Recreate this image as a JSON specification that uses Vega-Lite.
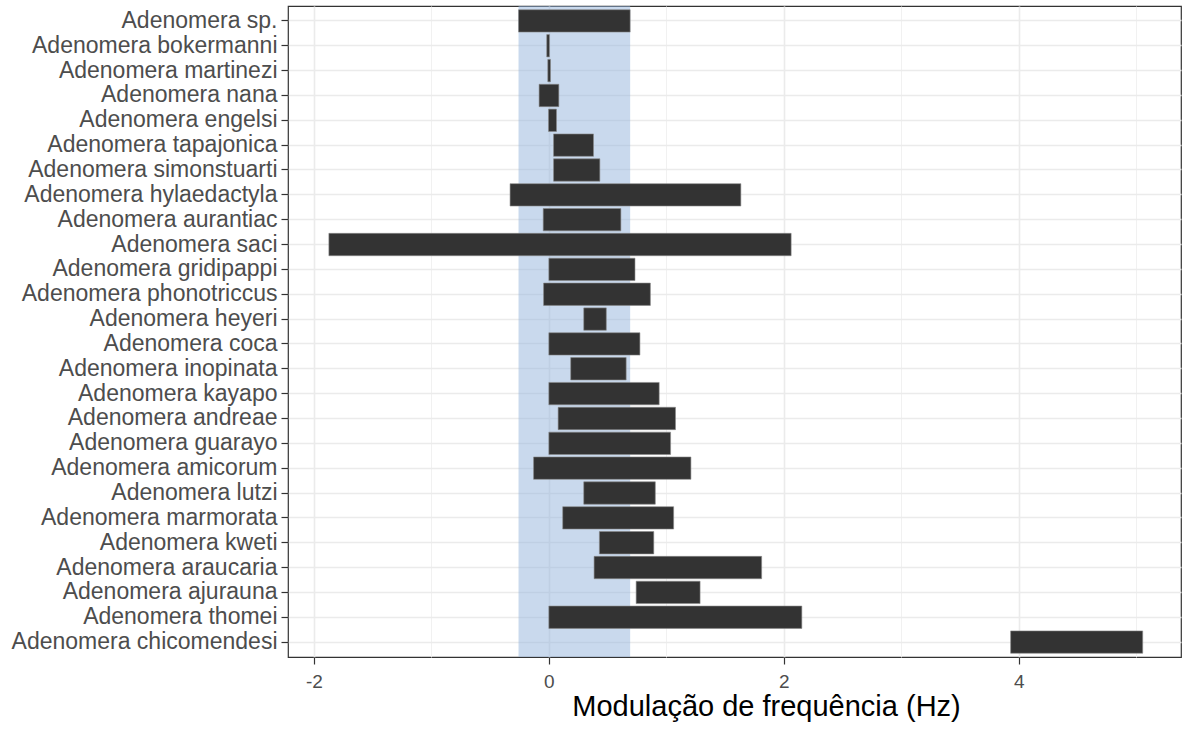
{
  "$schema": "https://vega.github.io/schema/vega-lite/v6.json",
  "autosize": "none",
  "width": 893,
  "height": 651,
  "padding": {"left": 288, "top": 6, "right": 3, "bottom": 76},
  "background": "white",
  "data": {
    "values": [
      {"especie": "Adenomera sp.", "min": -0.258, "max": 0.692},
      {"especie": "Adenomera bokermanni", "min": -0.018, "max": 0.005},
      {"especie": "Adenomera martinezi", "min": -0.009, "max": 0.014},
      {"especie": "Adenomera nana", "min": -0.083, "max": 0.085},
      {"especie": "Adenomera engelsi", "min": -0.003, "max": 0.065},
      {"especie": "Adenomera tapajonica", "min": 0.04, "max": 0.38},
      {"especie": "Adenomera simonstuarti", "min": 0.04, "max": 0.434},
      {"especie": "Adenomera hylaedactyla", "min": -0.33, "max": 1.634},
      {"especie": "Adenomera aurantiac", "min": -0.048, "max": 0.613},
      {"especie": "Adenomera saci", "min": -1.872, "max": 2.062},
      {"especie": "Adenomera gridipappi", "min": 0.0, "max": 0.733},
      {"especie": "Adenomera phonotriccus", "min": -0.045, "max": 0.864},
      {"especie": "Adenomera heyeri", "min": 0.297, "max": 0.489},
      {"especie": "Adenomera coca", "min": 0.0, "max": 0.775},
      {"especie": "Adenomera inopinata", "min": 0.186, "max": 0.658},
      {"especie": "Adenomera kayapo", "min": 0.0, "max": 0.939},
      {"especie": "Adenomera andreae", "min": 0.079, "max": 1.078},
      {"especie": "Adenomera guarayo", "min": 0.0, "max": 1.036},
      {"especie": "Adenomera amicorum", "min": -0.13, "max": 1.209},
      {"especie": "Adenomera lutzi", "min": 0.297, "max": 0.906},
      {"especie": "Adenomera marmorata", "min": 0.118, "max": 1.062},
      {"especie": "Adenomera kweti", "min": 0.43, "max": 0.893},
      {"especie": "Adenomera araucaria", "min": 0.385, "max": 1.811},
      {"especie": "Adenomera ajurauna", "min": 0.743, "max": 1.287},
      {"especie": "Adenomera thomei", "min": 0.0, "max": 2.153},
      {"especie": "Adenomera chicomendesi", "min": 3.93, "max": 5.054}
    ]
  },
  "layer": [
    {
      "transform": [{"filter": "datum.especie === 'Adenomera sp.'"}],
      "mark": {"type": "rect", "color": "#94b4dc", "opacity": 0.5},
      "encoding": {
        "x": {"field": "min", "type": "quantitative"},
        "x2": {"field": "max"}
      }
    },
    {
      "mark": {"type": "bar", "color": "#333333", "stroke": "#8a8a8a", "strokeWidth": 0.6},
      "encoding": {
        "y": {
          "field": "especie",
          "type": "nominal",
          "sort": null,
          "scale": {"paddingInner": 0.1, "paddingOuter": 0.15},
          "axis": {
            "title": null,
            "bandPosition": 0.5,
            "labelFontSize": 23,
            "labelColor": "#4d4d4d",
            "labelPadding": 4,
            "labelLimit": 400,
            "grid": true
          }
        },
        "x": {
          "field": "min",
          "type": "quantitative",
          "scale": {"domain": [-2.22, 5.38], "nice": false, "zero": false},
          "axis": {
            "title": "Modulação de frequência (Hz)",
            "values": [-2, -1, 0, 1, 2, 3, 4, 5],
            "labelExpr": "datum.value % 2 === 0 ? '' + datum.value : ''",
            "labelFontSize": 19,
            "labelColor": "#4d4d4d",
            "labelPadding": 8,
            "tickOpacity": {"condition": {"test": "datum.value % 2 !== 0", "value": 0}, "value": 1},
            "gridWidth": {"condition": {"test": "datum.value % 2 !== 0", "value": 0.9}, "value": 1.6},
            "gridColor": {"condition": {"test": "datum.value % 2 !== 0", "value": "#efefef"}, "value": "#ebebeb"},
            "titleFontSize": 29,
            "titleColor": "#000000",
            "titleBaseline": "alphabetic",
            "titleAlign": "center",
            "titleX": 478,
            "titleY": 58
          }
        },
        "x2": {"field": "max"}
      }
    }
  ],
  "config": {
    "font": "Liberation Sans",
    "view": {"stroke": "#333333", "strokeWidth": 1.2},
    "axis": {
      "domain": false,
      "grid": true,
      "gridColor": "#ebebeb",
      "gridWidth": 1.6,
      "tickColor": "#333333",
      "tickSize": 7,
      "tickWidth": 1.2,
      "labelFont": "Liberation Sans",
      "titleFont": "Liberation Sans",
      "titleFontWeight": "normal"
    }
  }
}
